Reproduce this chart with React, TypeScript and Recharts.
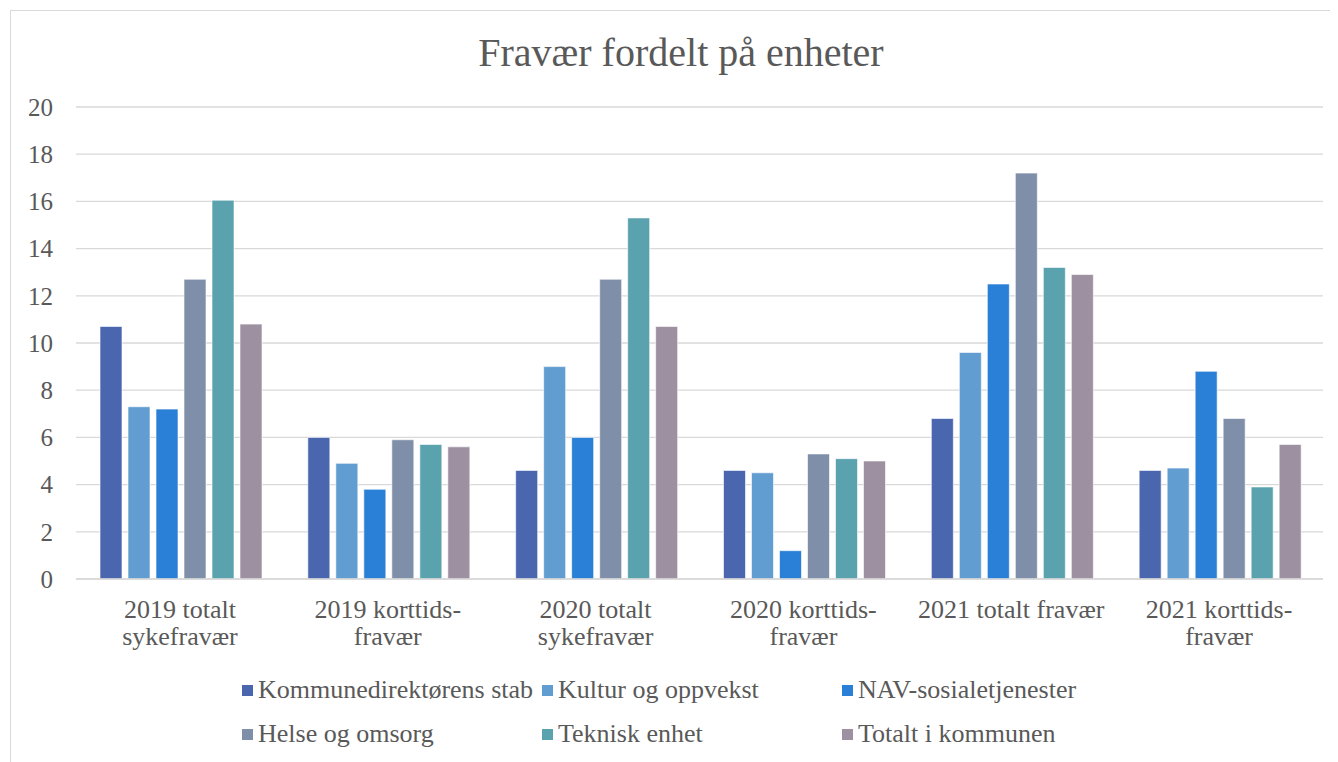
import { BarChart, Bar, XAxis, YAxis, CartesianGrid } from 'recharts';

const categories = [
  '2019 totalt\nsykefravær',
  '2019 korttids-\nfravær',
  '2020 totalt\nsykefravær',
  '2020 korttids-\nfravær',
  '2021 totalt fravær',
  '2021 korttids-\nfravær',
];

const kommunedirektorensStab = [10.7, 6.0, 4.6, 4.6, 6.8, 4.6];
const kulturOgOppvekst = [7.3, 4.9, 9.0, 4.5, 9.6, 4.7];
const navSosialetjenester = [7.2, 3.8, 6.0, 1.2, 12.5, 8.8];
const helseOgOmsorg = [12.7, 5.9, 12.7, 5.3, 17.2, 6.8];
const tekniskEnhet = [16.05, 5.7, 15.3, 5.1, 13.2, 3.9];
const totaltIKommunen = [10.8, 5.6, 10.7, 5.0, 12.9, 5.7];

const yTicks = [0, 2, 4, 6, 8, 10, 12, 14, 16, 18, 20];

const series = [
  { key: 'stab', name: 'Kommunedirektørens stab', values: kommunedirektorensStab, color: '#4a66ae' },
  { key: 'kultur', name: 'Kultur og oppvekst', values: kulturOgOppvekst, color: '#629dd1' },
  { key: 'nav', name: 'NAV-sosialetjenester', values: navSosialetjenester, color: '#2a7fd6' },
  { key: 'helse', name: 'Helse og omsorg', values: helseOgOmsorg, color: '#7f8fa9' },
  { key: 'teknisk', name: 'Teknisk enhet', values: tekniskEnhet, color: '#5aa2ae' },
  { key: 'totalt', name: 'Totalt i kommunen', values: totaltIKommunen, color: '#9d90a0' },
];

const data = categories.map((category, i) => {
  const row: Record<string, string | number> = { category };
  series.forEach((s) => {
    row[s.key] = s.values[i];
  });
  return row;
});

const FONT = "'Liberation Serif', 'Times New Roman', serif";
const TEXT = '#595959';

function CategoryTick({ x, y, payload }: any) {
  const lines = String(payload.value).split('\n');
  return (
    <text x={x} y={y + 31} textAnchor="middle" fill={TEXT} fontSize={26} fontFamily={FONT}>
      {lines.map((line, i) => (
        <tspan key={i} x={x} dy={i === 0 ? 0 : 27}>
          {line}
        </tspan>
      ))}
    </text>
  );
}

export default function App() {
  return (
    <div style={{ width: 1330, height: 754, overflow: 'hidden' }}>
      <div
        style={{
          position: 'relative',
          marginLeft: 2,
          marginTop: 2,
          width: 1344,
          height: 780,
          border: '1px solid #d9d9d9',
          background: '#fff',
          fontFamily: FONT,
          color: TEXT,
        }}
      >
        <div
          style={{
            position: 'absolute',
            top: 22,
            left: 0,
            width: 1340,
            textAlign: 'center',
            fontSize: 40,
            lineHeight: '40px',
          }}
        >
          Fravær fordelt på enheter
        </div>
        <BarChart
          width={1344}
          height={780}
          data={data}
          margin={{ top: 96, right: 32, bottom: 132, left: 0 }}
          barCategoryGap={24}
          barGap={6}
        >
          <CartesianGrid vertical={false} stroke="#d9d9d9" strokeWidth={1.3} />
          <XAxis
            dataKey="category"
            axisLine={{ stroke: '#d9d9d9', strokeWidth: 1.3 }}
            tickLine={false}
            height={80}
            interval={0}
            tick={<CategoryTick />}
          />
          <YAxis
            domain={[0, 20]}
            ticks={yTicks}
            width={65}
            axisLine={false}
            tickLine={false}
            tickSize={0}
            tickMargin={23}
            tick={{ fill: TEXT, fontSize: 25, fontFamily: FONT }}
          />
          {series.map((s) => (
            <Bar
              key={s.key}
              dataKey={s.key}
              name={s.name}
              fill={s.color}
              stroke="#ffffff"
              strokeOpacity={0.6}
              strokeWidth={1}
              isAnimationActive={false}
            />
          ))}
        </BarChart>
        <div
          style={{
            position: 'absolute',
            left: 231,
            top: 657,
            display: 'grid',
            gridTemplateColumns: '300px 300px 300px',
            fontSize: 26,
            lineHeight: '44px',
            whiteSpace: 'nowrap',
          }}
        >
          {series.map((s) => (
            <div key={s.key}>
              <span
                style={{
                  display: 'inline-block',
                  width: 11,
                  height: 11,
                  marginRight: 5,
                  marginBottom: 2,
                  verticalAlign: 'baseline',
                  background: s.color,
                }}
              />
              {s.name}
            </div>
          ))}
        </div>
      </div>
    </div>
  );
}
